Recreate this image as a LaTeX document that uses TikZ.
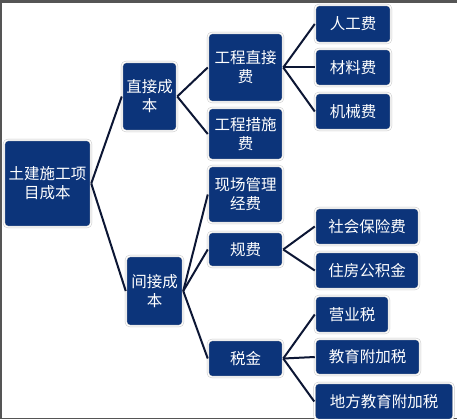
\documentclass[tikz,border=0pt]{standalone}
\usepackage{fontspec}
\setmainfont{Noto Sans CJK SC}
\usepackage{xcolor}
\usetikzlibrary{positioning}
\definecolor{boxblue}{RGB}{12,52,122}
\definecolor{linkblue}{RGB}{12,22,52}
\definecolor{framegray}{RGB}{85,85,85}

\begin{document}
\begin{tikzpicture}[x=1pt,y=-1pt,every node/.style={font=\fontsize{15.5}{19}\selectfont},
  box/.style={rectangle,rounded corners=4pt,fill=boxblue,draw=gray!45,line width=0.5pt,
    double=white,double distance=1.2pt,text=white,align=center,inner sep=0pt},
  link/.style={draw=linkblue,line width=2pt}]
  \useasboundingbox (0,0) rectangle (457,419);
  \fill[white] (0,0) rectangle (457,419);
  \fill[framegray] (0,0) rectangle (457,3);
  \draw[framegray,line width=1.5pt] (0.75,3) -- (0.75,418.25) -- (457,418.25);
  \node[box,minimum width=87pt,minimum height=87pt] (root) at (47.5,183.5) {土建施工项\\目成本};
  \node[box,minimum width=55pt,minimum height=69pt] (direct) at (149.5,96.5) {直接成\\本};
  \node[box,minimum width=57pt,minimum height=70pt] (indirect) at (154.5,291) {间接成\\本};
  \node[box,minimum width=75pt,minimum height=69pt] (projdirect) at (245.5,67.5) {工程直接\\费};
  \node[box,minimum width=75pt,minimum height=52pt] (measure) at (245.5,134) {工程措施\\费};
  \node[box,minimum width=75pt,minimum height=57pt] (sitemgmt) at (245.5,194.5) {现场管理\\经费};
  \node[box,minimum width=75pt,minimum height=35pt] (fees) at (245.5,249.5) {规费};
  \node[box,minimum width=75pt,minimum height=37pt] (tax) at (245.5,358.5) {税金};
  \node[box,minimum width=76pt,minimum height=38pt] (labor) at (353,24) {人工费};
  \node[box,minimum width=76pt,minimum height=37pt] (material) at (353,67.5) {材料费};
  \node[box,minimum width=76pt,minimum height=37pt] (machine) at (353,111.5) {机械费};
  \node[box,minimum width=104pt,minimum height=37pt] (social) at (367,226.5) {社会保险费};
  \node[box,minimum width=104pt,minimum height=37pt] (housing) at (367,270.5) {住房公积金};
  \node[box,minimum width=74pt,minimum height=37pt] (business) at (352,314.5) {营业税};
  \node[box,minimum width=105pt,minimum height=36pt] (edu) at (367.5,357) {教育附加税};
  \node[box,minimum width=139pt,minimum height=37pt] (localedu) at (384,401.5) {地方教育附加税};
  \draw[link] (root.east) -- (direct.west);
  \draw[link] (root.east) -- (indirect.west);
  \draw[link] (direct.east) -- (projdirect.west);
  \draw[link] (direct.east) -- (measure.west);
  \draw[link] (indirect.east) -- (sitemgmt.west);
  \draw[link] (indirect.east) -- (fees.west);
  \draw[link] (indirect.east) -- (tax.west);
  \draw[link] (projdirect.east) -- (labor.west);
  \draw[link] (projdirect.east) -- (material.west);
  \draw[link] (projdirect.east) -- (machine.west);
  \draw[link] (fees.east) -- (social.west);
  \draw[link] (fees.east) -- (housing.west);
  \draw[link] (tax.east) -- (business.west);
  \draw[link] (tax.east) -- (edu.west);
  \draw[link] (tax.east) -- (localedu.west);
\end{tikzpicture}
\end{document}
